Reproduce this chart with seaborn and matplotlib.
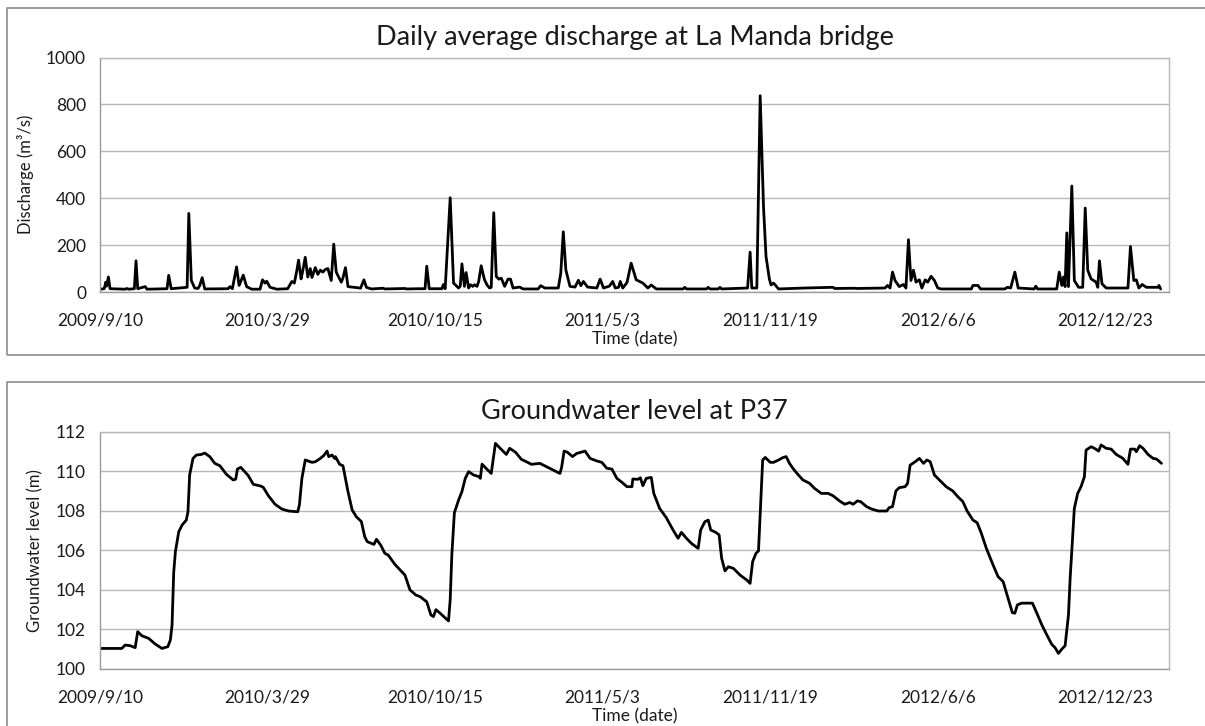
import matplotlib
matplotlib.use("Agg")
import matplotlib.pyplot as plt
from matplotlib.patches import Rectangle
import numpy as np
import pandas as pd
import seaborn as sns

# ---- data -------------------------------------------------------------
start_date = "2009-09-10"

# daily average discharge (m3/s), day offset from start_date
q_days = [0, 5, 7, 8, 10, 12, 30, 32, 34, 41, 43, 45, 54, 56, 80, 82, 85, 104, 106, 109,
          113, 117, 119, 122, 125, 153, 155, 158, 163, 166, 168, 171, 175, 181, 191, 194,
          197, 199, 203, 211, 224, 229, 232, 235, 237, 240, 242, 245, 248, 251, 253, 257,
          260, 263, 266, 269, 272, 276, 279, 282, 284, 288, 290, 293, 296, 308, 311, 315,
          318, 324, 338, 340, 364, 366, 380, 388, 390, 393, 408, 410, 412, 418, 422, 428,
          430, 432, 435, 437, 440, 442, 445, 447, 450, 452, 455, 457, 459, 462, 465, 467,
          470, 473, 476, 479, 483, 487, 490, 493, 501, 505, 523, 526, 531, 547, 550, 553,
          556, 561, 567, 571, 574, 577, 582, 593, 597, 601, 608, 612, 615, 619, 621, 624,
          629, 634, 640, 648, 654, 658, 664, 696, 698, 700, 724, 726, 728, 738, 740, 742,
          773, 776, 778, 784, 788, 792, 795, 799, 801, 804, 810, 841, 875, 877, 901, 903,
          937, 940, 943, 946, 949, 954, 959, 962, 965, 968, 971, 974, 978, 981, 985, 988,
          992, 996, 1000, 1004, 1040, 1042, 1048, 1051, 1080, 1083, 1087, 1092, 1096, 1115,
          1117, 1119, 1142, 1145, 1148, 1150, 1152, 1154, 1156, 1160, 1163, 1168, 1173,
          1176, 1179, 1183, 1189, 1191, 1193, 1196, 1201, 1227, 1230, 1234, 1237, 1240,
          1244, 1249, 1263, 1264, 1266]
q_vals = [12, 14, 42, 25, 64, 14, 12, 15, 12, 14, 133, 14, 23, 12, 14, 71, 14, 20, 335, 49,
          17, 15, 27, 61, 13, 14, 23, 14, 107, 28, 45, 72, 23, 12, 12, 52,
          38, 46, 20, 12, 14, 45, 38, 93, 136, 56, 90, 148, 64, 100, 62, 104,
          75, 93, 85, 96, 100, 49, 204, 85, 70, 42, 60, 104, 23, 18, 16, 52,
          20, 13, 16, 13, 15, 13, 14, 14, 110, 14, 14, 32, 14, 402, 38, 17,
          25, 120, 24, 83, 17, 31, 24, 31, 24, 45, 112, 80, 52, 30, 17, 20,
          338, 66, 55, 59, 24, 55, 55, 17, 21, 13, 13, 27, 17, 17, 80, 257,
          95, 24, 21, 50, 27, 45, 21, 17, 55, 17, 25, 45, 17, 20, 45, 17,
          40, 123, 52, 38, 17, 30, 13, 13, 20, 13, 13, 20, 13, 13, 20, 13,
          17, 170, 17, 17, 837, 363, 151, 55, 30, 38, 13, 17, 20, 15, 16, 15,
          17, 28, 17, 85, 49, 23, 32, 17, 223, 49, 93, 42, 52, 17, 52, 42,
          67, 49, 17, 13, 13, 28, 28, 13, 13, 20, 17, 85, 17, 13,
          25, 13, 13, 85, 28, 64, 23, 252, 23, 452, 49, 20, 20,
          358, 93, 56, 42, 20, 133, 35, 17, 17, 194, 49, 52, 17,
          32, 20, 20, 28, 13]

# groundwater level at P37 (m), day offset from start_date
gw_days = [0, 26, 30, 36, 42, 45, 50, 58, 66, 74, 81, 84, 86, 88, 90, 94, 98, 103, 105, 107,
           111, 115, 121, 125, 131, 137, 143, 151, 159, 162, 164, 168, 177, 183, 192, 195,
           201, 209, 217, 225, 236, 238, 241, 245, 253, 257, 263, 267, 271, 273, 277, 280,
           281, 286, 290, 296, 301, 306, 312, 316, 319, 324, 327, 330, 335, 340, 344, 352,
           364, 370, 377, 382, 390, 395, 398, 401, 406, 416, 418, 420, 423, 428, 432, 436,
           440, 446, 452, 454, 456, 461, 467, 472, 477, 485, 489, 496, 503, 509, 515, 525,
           533, 541, 549, 551, 554, 558, 564, 569, 579, 585, 593, 599, 605, 611, 617, 623,
           629, 635, 636, 642, 645, 648, 652, 658, 661, 668, 676, 684, 690, 694, 700, 706,
           714, 717, 722, 726, 729, 735, 739, 742, 746, 750, 756, 764, 772, 776, 779, 783,
           786, 791, 794, 800, 804, 810, 815, 819, 823, 827, 833, 839, 847, 853, 861, 869,
           875, 883, 889, 895, 899, 904, 908, 915, 921, 929, 939, 942, 946, 950, 954, 961,
           964, 967, 973, 978, 983, 987, 991, 996, 1002, 1010, 1018, 1024, 1030, 1035, 1042,
           1047, 1052, 1058, 1066, 1072, 1078, 1084, 1089, 1092, 1095, 1100, 1106, 1113, 1118,
           1124, 1130, 1136, 1140, 1144, 1148, 1152, 1156, 1158, 1163, 1167, 1171, 1175, 1177,
           1183, 1187, 1192, 1195, 1201, 1207, 1213, 1221, 1227, 1230, 1235, 1237, 1241, 1245,
           1251, 1257, 1261, 1267]
gw_vals = [101.04, 101.04, 101.21, 101.18, 101.08, 101.89, 101.68, 101.55, 101.26, 101.04,
           101.13, 101.47, 102.22, 104.90, 105.93, 106.94, 107.28, 107.53, 107.95, 109.81,
           110.65, 110.82, 110.85, 110.92, 110.74, 110.40, 110.28, 109.84, 109.56, 109.60,
           110.11, 110.20, 109.78, 109.34, 109.25, 109.18, 108.76, 108.33, 108.09, 107.99,
           107.95, 108.29, 109.64, 110.57, 110.45, 110.48, 110.65, 110.79, 111.02, 110.74,
           110.82, 110.65, 110.74, 110.35, 110.28, 108.97, 108.04, 107.70, 107.45, 106.69,
           106.44, 106.35, 106.30, 106.56, 106.27, 105.85, 105.76, 105.29, 104.75, 104.00,
           103.74, 103.66, 103.40, 102.73, 102.65, 103.00, 102.82, 102.43, 103.50, 105.80,
           107.90, 108.54, 108.97, 109.64, 109.98, 109.81, 109.73, 109.64, 110.36, 110.14,
           109.89, 111.41, 111.19, 110.85, 111.16, 110.96, 110.60, 110.48, 110.35, 110.40,
           110.23, 110.06, 109.89, 110.20, 111.02, 110.96, 110.74, 110.90, 111.02, 110.65,
           110.52, 110.45, 110.15, 110.11, 109.64, 109.44, 109.22, 109.22, 109.61, 109.59,
           109.67, 109.27, 109.64, 109.69, 108.88, 108.12, 107.65, 107.03, 106.61, 106.91,
           106.61, 106.35, 106.10, 107.03, 107.45, 107.53, 107.03, 106.91, 106.78, 105.60,
           104.96, 105.17, 105.09, 104.75, 104.50, 104.33, 105.43, 105.85, 105.97, 110.57,
           110.70, 110.45, 110.45, 110.57, 110.69, 110.74, 110.40, 110.15, 109.84, 109.56,
           109.39, 109.13, 108.88, 108.88, 108.76, 108.49, 108.33, 108.42, 108.33, 108.50,
           108.46, 108.21, 108.09, 107.99, 107.99, 108.16, 108.21, 109.00, 109.17, 109.22,
           109.39, 110.31, 110.48, 110.65, 110.40, 110.57, 110.48, 109.81, 109.56, 109.22,
           109.00, 108.71, 108.46, 107.99, 107.53, 107.40, 106.86, 106.10, 105.26, 104.67,
           104.42, 103.57, 102.85, 102.82, 103.24, 103.33, 103.33, 103.33, 102.85, 102.25,
           101.74, 101.25, 101.08, 100.79, 101.00, 101.18, 102.73, 104.58, 108.12, 108.88,
           109.22, 109.72, 111.07, 111.24, 111.16, 111.02, 111.33, 111.16, 111.12, 110.85,
           110.65, 110.35, 111.12, 111.12, 110.99, 111.29, 111.16, 110.85, 110.65, 110.62,
           110.40]

tick_days = [0, 200, 400, 600, 800, 1000, 1200]
tick_labels = ["2009/9/10", "2010/3/29", "2010/10/15", "2011/5/3",
               "2011/11/19", "2012/6/6", "2012/12/23"]

q_yticks = [0, 200, 400, 600, 800, 1000]
gw_yticks = [100, 102, 104, 106, 108, 110, 112]

# ---- styling ----------------------------------------------------------
sns.set_style("white")
plt.rcParams["font.family"] = ["Lato", "DejaVu Sans"]

GRID = "#b8b8b8"
AXIS = "#9a9a9a"
TXT = "#1a1a1a"

t0 = pd.Timestamp(start_date)
q_df = pd.DataFrame({"date": t0 + pd.to_timedelta(q_days, unit="D"), "discharge": q_vals})
gw_df = pd.DataFrame({"date": t0 + pd.to_timedelta(gw_days, unit="D"), "level": gw_vals})
tick_dates = t0 + pd.to_timedelta(tick_days, unit="D")
x_end = t0 + pd.Timedelta(days=1276)

W, H = 1205, 726
fig = plt.figure(figsize=(W / 100, H / 100), dpi=100)


def px_axes(left, top, right, bottom):
    return fig.add_axes([left / W, 1 - bottom / H, (right - left) / W, (bottom - top) / H])


# panel frames
for (x0, y0, x1, y1) in [(7, 8, 1215, 355), (7, 382, 1215, 740)]:
    fig.patches.append(Rectangle((x0 / W, 1 - y1 / H), (x1 - x0) / W, (y1 - y0) / H,
                                 transform=fig.transFigure, fill=False,
                                 edgecolor="#8c8c8c", linewidth=1.2, zorder=0))


def style_axes(ax, yticks, ylabel, title):
    ax.set_xlim(t0, x_end)
    ax.set_ylim(yticks[0], yticks[-1])
    ax.set_yticks(yticks)
    ax.set_yticklabels([str(v) for v in yticks])
    ax.set_xticks(tick_dates)
    ax.set_xticklabels(tick_labels)
    ax.grid(axis="y", color=GRID, linewidth=1.0)
    ax.grid(axis="x", visible=False)
    ax.set_axisbelow(True)
    for s in ax.spines.values():
        s.set_color(GRID)
        s.set_linewidth(1.0)
        s.set_visible(True)
    ax.spines["left"].set_color(AXIS)
    ax.spines["bottom"].set_color(AXIS)
    ax.tick_params(axis="x", direction="out", length=5, width=1, color=AXIS,
                   labelsize=12.5, labelcolor=TXT, pad=10)
    ax.tick_params(axis="y", direction="out", length=6, width=1, color=AXIS,
                   labelsize=12.5, labelcolor=TXT, pad=4)
    ax.set_xlabel("Time (date)", fontsize=12.5, color=TXT, labelpad=2)
    ax.set_ylabel(ylabel, fontsize=12, color=TXT, labelpad=9)
    ax.set_title(title, fontsize=19.5, color=TXT, pad=9)


ax1 = px_axes(100, 57.5, 1169, 292)
sns.lineplot(data=q_df, x="date", y="discharge", ax=ax1, color="black", linewidth=2.0)
style_axes(ax1, q_yticks, "Discharge (m³/s)", "Daily average discharge at La Manda bridge")

ax2 = px_axes(100, 431.7, 1169, 669)
sns.lineplot(data=gw_df, x="date", y="level", ax=ax2, color="black", linewidth=2.0)
style_axes(ax2, gw_yticks, "Groundwater level (m)", "Groundwater level at P37")

fig.savefig("out.png", dpi=100)
